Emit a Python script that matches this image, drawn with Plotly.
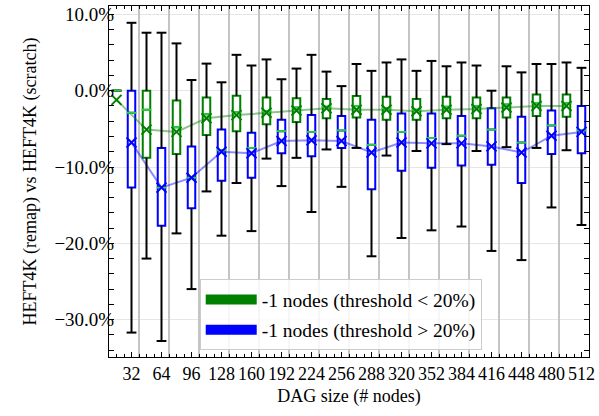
import plotly.graph_objects as go

# DAG sizes (x tick labels)
sizes = [32, 64, 96, 128, 160, 192, 224, 256, 288, 320, 352, 384, 416, 448, 480, 512]

# -1 nodes (threshold < 20%)  -- values in percent
green_high = [0.0, 7.6, 6.2, 3.55, 4.7, 4.1, 2.9, 2.5, 3.5, 3.7, 2.6, 3.2, 3.3, 3.2, 3.5, 3.7]
green_q3 = [0.0, 0.0, -1.3, -0.9, -0.65, -0.9, -1.0, -1.1, -0.7, -0.8, -1.1, -0.8, -0.9, -0.9, -0.5, -0.5]
green_med = [0.0, -2.5, -4.8, -3.1, -2.8, -2.7, -2.2, -2.1, -2.0, -2.3, -2.5, -2.1, -2.0, -1.8, -1.6, -1.6]
green_q1 = [0.0, -8.8, -8.3, -5.8, -5.3, -4.4, -4.1, -3.6, -3.5, -3.8, -3.8, -3.6, -3.6, -3.5, -3.3, -3.4]
green_low = [0.0, -22.0, -18.7, -13.2, -12.1, -8.9, -8.8, -7.7, -7.5, -8.5, -7.9, -7.0, -7.9, -7.4, -7.5, -7.8]
green_mean = [-1.2, -5.1, -5.4, -3.6, -3.2, -2.9, -2.6, -2.3, -2.5, -2.5, -2.7, -2.5, -2.4, -2.2, -2.0, -2.0]

# -1 nodes (threshold > 20%)  -- values in percent
blue_high = [8.9, 7.6, 1.4, 1.1, 3.3, 1.5, 4.7, 0.6, 2.6, 4.1, 3.9, 3.7, 0.0, 2.4, 3.5, 3.0]
blue_q3 = [0.0, -7.5, -7.3, -5.1, -5.5, -3.8, -3.2, -3.3, -3.8, -3.0, -3.0, -3.3, -2.3, -3.4, -2.6, -2.0]
blue_med = [-2.9, -12.7, -11.4, -7.8, -7.5, -5.3, -5.4, -5.2, -7.1, -5.4, -6.2, -5.9, -5.1, -6.8, -4.55, -5.2]
blue_q1 = [-12.7, -17.7, -15.4, -11.8, -11.4, -8.2, -8.6, -7.5, -12.9, -10.5, -10.1, -9.8, -9.7, -12.1, -8.3, -8.2]
blue_low = [-31.7, -32.8, -26.0, -19.0, -18.4, -12.5, -15.9, -12.6, -21.7, -19.3, -18.3, -17.8, -21.0, -22.2, -15.3, -17.6]
blue_mean = [-6.8, -12.7, -11.4, -8.0, -8.2, -6.6, -6.5, -6.6, -8.1, -6.8, -6.9, -6.9, -7.3, -8.1, -5.9, -5.4]

names = ["-1 nodes (threshold < 20%)", "-1 nodes (threshold > 20%)"]

FONT = "Liberation Serif"
GREEN = "#008000"
BLUE = "#0000ff"
MEDIAN = "#2ecc40"
BOX_W = 8
OFFSET = 16

def pct(a):
    return [v / 100.0 for v in a]

series = [
    dict(pos=[s - OFFSET for s in sizes], high=green_high, q3=green_q3, med=green_med,
         q1=green_q1, low=green_low, mean=green_mean, color=GREEN,
         line="rgba(0,128,0,0.45)"),
    dict(pos=list(sizes), high=blue_high, q3=blue_q3, med=blue_med,
         q1=blue_q1, low=blue_low, mean=blue_mean, color=BLUE,
         line="rgba(0,0,255,0.45)"),
]

fig = go.Figure()

# mean trend lines
for s in series:
    fig.add_trace(go.Scatter(x=s["pos"], y=pct(s["mean"]), mode="lines",
                             line=dict(color=s["line"], width=2),
                             showlegend=False, hoverinfo="skip"))

# boxes
for s in series:
    fig.add_trace(go.Box(x=s["pos"], q1=pct(s["q1"]), median=pct(s["med"]), q3=pct(s["q3"]),
                         lowerfence=pct(s["q1"]), upperfence=pct(s["q3"]),
                         width=BOX_W, whiskerwidth=0, boxpoints=False,
                         line=dict(color=s["color"], width=2),
                         fillcolor="rgba(255,255,255,0)", showlegend=False))

# whiskers + caps
for s in series:
    wx, wy = [], []
    for p, lo, a, b, hi in zip(s["pos"], s["low"], s["q1"], s["q3"], s["high"]):
        wx += [p, p, None, p, p, None]
        wy += [a / 100, lo / 100, None, b / 100, hi / 100, None]
    fig.add_trace(go.Scatter(x=wx, y=wy, mode="lines", line=dict(color="black", width=2),
                             showlegend=False, hoverinfo="skip"))
    fig.add_trace(go.Scatter(x=s["pos"] + s["pos"], y=pct(s["low"]) + pct(s["high"]),
                             mode="markers",
                             marker=dict(symbol="line-ew", size=7, color="black",
                                         line=dict(color="black", width=2)),
                             showlegend=False, hoverinfo="skip"))

# medians
for s in series:
    fig.add_trace(go.Scatter(x=s["pos"], y=pct(s["med"]), mode="markers",
                             marker=dict(symbol="line-ew", size=7, color=MEDIAN,
                                         line=dict(color=MEDIAN, width=2)),
                             showlegend=False, hoverinfo="skip"))

# means
for s in series:
    fig.add_trace(go.Scatter(x=s["pos"], y=pct(s["mean"]), mode="markers",
                             marker=dict(symbol="x-thin", size=10, color=s["color"],
                                         line=dict(color=s["color"], width=2)),
                             showlegend=False, hoverinfo="skip"))

# legend entries
for s, n in zip(series, names):
    fig.add_trace(go.Scatter(x=[None], y=[None], mode="lines", name=n,
                             line=dict(color=s["color"], width=15), legendgroup=n))

# helper trace for the group separator grid
fig.add_trace(go.Scatter(x=[None], y=[None], xaxis="x2", showlegend=False, hoverinfo="skip"))

xrange = [8, 520]
yrange = [-0.349, 0.111]

fig.update_layout(
    width=599, height=416,
    margin=dict(l=109, r=5, t=4, b=59),
    paper_bgcolor="white", plot_bgcolor="white",
    font=dict(family=FONT, size=18, color="black"),
    boxmode="overlay",
    xaxis=dict(range=xrange, tickmode="linear", tick0=32, dtick=32,
               ticks="inside", ticklen=5, tickwidth=1, tickcolor="black",
               minor=dict(ticks="inside", ticklen=3, dtick=8, tick0=0, tickcolor="black", showgrid=False),
               showline=True, linecolor="black", linewidth=1, mirror="allticks",
               showgrid=False, zeroline=False, ticklabeloverflow="allow",
               title=dict(text="DAG size (# nodes)", font=dict(size=18), standoff=6),
               tickfont=dict(size=18)),
    xaxis2=dict(range=xrange, overlaying="x", anchor="y", tickmode="linear", tick0=8, dtick=32,
                showgrid=True, gridcolor="#c4c4c4", gridwidth=2, showticklabels=False,
                ticks="", showline=False, zeroline=False),
    yaxis=dict(range=yrange, tickmode="linear", tick0=0, dtick=0.1, tickformat=".1%",
               ticks="inside", ticklen=5, tickwidth=1, tickcolor="black",
               minor=dict(ticks="inside", ticklen=3, dtick=0.02, tick0=0, tickcolor="black", showgrid=False),
               showline=True, linecolor="black", linewidth=1, mirror="allticks",
               showgrid=True, gridcolor="#e6e6e6", gridwidth=1, zeroline=False,
               ticklabelstandoff=-10,
               title=dict(text="HEFT4K (remap) vs HEFT4K (scratch)", font=dict(size=18), standoff=13),
               tickfont=dict(size=19)),
    legend=dict(x=0.189, y=0.019, xanchor="left", yanchor="bottom",
                bgcolor="rgba(255,255,255,0.85)", bordercolor="#cccccc", borderwidth=1,
                font=dict(size=19.5), tracegroupgap=2, itemwidth=51),
    showlegend=True,
)

fig.write_html("out.html", config={"displayModeBar": False},
               post_script="document.body.style.margin='0';document.body.style.padding='0';")
